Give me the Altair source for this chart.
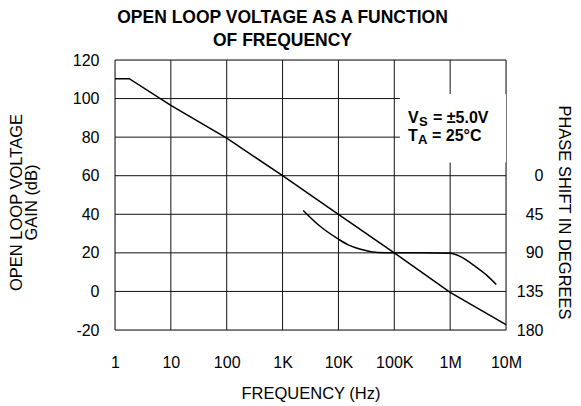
import altair as alt
import pandas as pd

# ---- data ----
gain_freq = [1, 1.8, 10, 100, 1e3, 1e4, 1e5, 1e6, 1e7]
gain_db = [110.3, 110.3, 96.5, 79.5, 60, 40, 20, -0.5, -17.2]

phase_freq = [2340, 4700, 10000, 15000, 24000, 50000, 100000, 300000, 1e6,
              1.25e6, 1.6e6, 2.7e6, 4.5e6, 6.7e6]
phase_deg = [40.5, 59, 74, 80.7, 85.6, 89.5, 90, 90, 90.5, 92, 95, 105, 116, 127]

x_tick_values = [1, 10, 100, 1e3, 1e4, 1e5, 1e6, 1e7]
x_tick_labels = ["1", "10", "100", "1K", "10K", "100K", "1M", "10M"]
gain_ticks = [-20, 0, 20, 40, 60, 80, 100, 120]
phase_ticks = [0, 45, 90, 135, 180]

gain_df = pd.DataFrame({"freq": gain_freq, "gain": gain_db})
phase_df = pd.DataFrame({"freq": phase_freq, "phase": phase_deg})
xgrid_df = pd.DataFrame({"freq": x_tick_values})
ygrid_df = pd.DataFrame({"gain": gain_ticks})

FONT = "Liberation Sans"
GRID = "#111"
LBL = 16
TTL = 16.5

# label expression built from the tick lists
expr = "''"
for v, lab in reversed(list(zip(x_tick_values, x_tick_labels))):
    expr = f"(abs(log(datum.value)/LN10 - {len(str(int(v))) - 1}) < 0.01 ? '{lab}' : {expr})"

x_scale = alt.Scale(type="log", domain=[1, 1e7], nice=False)
x_enc = alt.X(
    "freq:Q",
    scale=x_scale,
    axis=alt.Axis(
        values=x_tick_values, tickCount=8, labelExpr=expr, grid=False,
        ticks=False, domain=False, labelPadding=24, labelOverlap=False,
        labelFlush=False,
        labelFontSize=LBL, labelColor="black", labelFont=FONT,
        title="FREQUENCY (Hz)", titleFontSize=TTL, titleFontWeight="normal",
        titleColor="black", titleFont=FONT, titlePadding=15,
    ),
)

gain_scale = alt.Scale(domain=[-20, 120], nice=False, zero=False)

# grid drawn from the tick lists
xgrid = alt.Chart(xgrid_df).mark_rule(color=GRID, strokeWidth=1).encode(
    x=alt.X("freq:Q", scale=x_scale)
)
ygrid = alt.Chart(ygrid_df).mark_rule(color=GRID, strokeWidth=1).encode(
    y=alt.Y("gain:Q", scale=gain_scale)
)

gain_line = alt.Chart(gain_df).mark_line(color="black", strokeWidth=1.5).encode(
    x=x_enc,
    y=alt.Y(
        "gain:Q",
        scale=gain_scale,
        axis=alt.Axis(
            values=gain_ticks, tickCount=8, grid=False, ticks=False,
            domain=False, labelPadding=16, labelFontSize=LBL,
            labelOverlap=False, labelFlush=False,
            labelExpr="replace(datum.label, '\u2212', '-')",
            labelColor="black", labelFont=FONT,
            title=["OPEN LOOP VOLTAGE", "GAIN (dB)"], titleFontSize=TTL,
            titleFontWeight="normal", titleColor="black", titleFont=FONT,
            titleLineHeight=15.5, titleAngle=270, titleX=-99, titleY=142,
            titleAlign="center", titleBaseline="middle",
        ),
    ),
)

# white box behind the conditions annotation
box = alt.Chart(pd.DataFrame({"a": [0]})).mark_rect(fill="white").encode(
    x=alt.datum(1.26e5), x2=alt.datum(1e7),
    y=alt.datum(66.8, scale=gain_scale), y2=alt.datum(102.4),
)

def txt(text, x, y, size, dx=0, dy=0):
    return alt.Chart(pd.DataFrame({"a": [0]})).mark_text(
        text=text, align="left", baseline="alphabetic", fontSize=size,
        fontWeight="bold", font=FONT, color="black", dx=dx, dy=dy,
    ).encode(x=alt.datum(x), y=alt.datum(y, scale=gain_scale))

ann_x = 1.76e5
ann = [
    txt("V", ann_x, 87.1, 16),
    txt("S", ann_x, 87.1, 13, dx=11, dy=3),
    txt("= \u00b15.0V", ann_x, 87.1, 16, dx=25),
    txt("T", ann_x, 78.1, 16),
    txt("A", ann_x, 78.1, 13, dx=10, dy=3),
    txt("= 25\u00b0C", ann_x, 78.1, 16, dx=24),
]

gain_group = alt.layer(xgrid, ygrid, gain_line, box, *ann)

phase_line = alt.Chart(phase_df).mark_line(
    color="black", strokeWidth=1.5, interpolate="monotone"
).encode(
    x=alt.X("freq:Q", scale=x_scale),
    y=alt.Y(
        "phase:Q",
        scale=alt.Scale(domain=[-135, 180], reverse=True, nice=False, zero=False),
        axis=alt.Axis(
            orient="right", values=phase_ticks, tickCount=5, grid=False,
            ticks=False, domain=False, labelAlign="right", labelPadding=37,
            labelOverlap=False, labelFlush=False,
            labelFontSize=LBL, labelColor="black", labelFont=FONT,
            title="PHASE SHIFT IN DEGREES", titleFontSize=TTL,
            titleFontWeight="normal", titleColor="black", titleFont=FONT,
            titleAngle=90, titleX=57, titleY=152, titleAlign="center",
            titleBaseline="middle",
        ),
    ),
)

chart = alt.layer(gain_group, phase_line).resolve_scale(y="independent").properties(
    width=391,
    height=270,
    autosize=alt.AutoSizeParams(type="none"),
    padding={"left": 107, "top": 52, "right": 67, "bottom": 72},
    title=alt.TitleParams(
        ["OPEN LOOP VOLTAGE AS A FUNCTION", "OF FREQUENCY"],
        fontSize=17.5, fontWeight="bold", font=FONT, color="black",
        lineHeight=23, anchor="middle", dx=-28, offset=3,
    ),
).configure_view(stroke="#222", strokeWidth=1).configure(font=FONT)

chart.save("out.html", embed_options={"renderer": "svg", "actions": False})
